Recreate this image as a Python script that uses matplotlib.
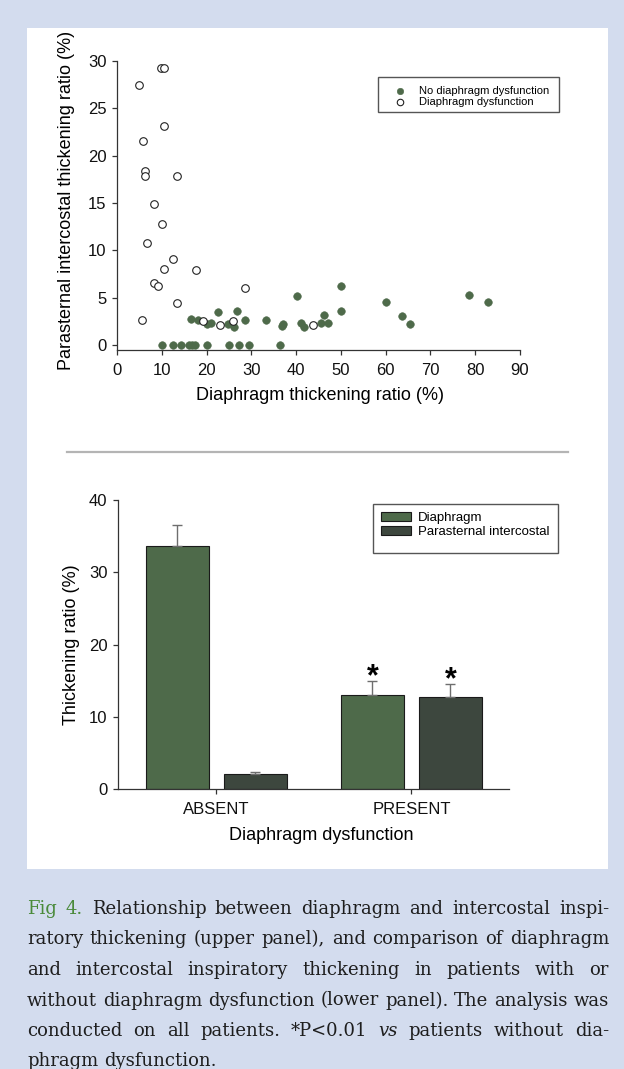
import matplotlib
matplotlib.use('Agg')
import matplotlib.pyplot as plt
from matplotlib.patches import Rectangle, Patch
from matplotlib.lines import Line2D
import numpy as np

# ---------------- data ----------------
# Upper panel: scatter (diaphragm TR %, parasternal TR %)
nodys_x = [10.0, 12.5, 14.3, 16.0, 16.7, 17.4, 20.0, 25.0, 27.3, 29.4, 36.4,
           16.6, 18.1, 20.1, 20.9, 22.5, 24.9, 26.1, 26.7, 28.6, 33.3, 36.8, 37.1,
           40.1, 41.2, 41.7, 45.5, 46.2, 47.2, 50.1, 50.1, 60.1, 63.7, 65.4, 78.7, 82.8]
nodys_y = [0, 0, 0, 0, 0, 0, 0, 0, 0, 0, 0,
           2.75, 2.64, 2.22, 2.29, 3.45, 2.18, 1.94, 3.55, 2.68, 2.6, 2.0, 2.25,
           5.14, 2.36, 1.94, 2.36, 3.13, 2.29, 6.23, 3.55, 4.58, 3.03, 2.18, 5.25, 4.54]
dys_x = [5.0, 9.9, 10.6, 10.5, 5.9, 6.2, 6.2, 13.3, 8.3, 10.0, 6.7, 12.5, 10.6,
         17.6, 8.25, 9.1, 28.6, 13.3, 5.5, 19.3, 23.0, 25.8, 43.8]
dys_y = [27.5, 29.3, 29.3, 23.1, 21.6, 18.4, 17.9, 17.8, 14.9, 12.8, 10.8, 9.1, 8.05,
         7.9, 6.5, 6.2, 6.0, 4.4, 2.6, 2.5, 2.1, 2.55, 2.15]
scatter_labels = ['No diaphragm dysfunction', 'Diaphragm dysfunction']
scatter_xticks = [0, 10, 20, 30, 40, 50, 60, 70, 80, 90]
scatter_yticks = [0, 5, 10, 15, 20, 25, 30]

# Lower panel: bars
groups = ['ABSENT', 'PRESENT']
diaphragm_mean = [33.6, 13.1]
diaphragm_err = [3.0, 1.9]
parasternal_mean = [2.1, 12.7]
parasternal_err = [0.25, 1.9]
significant = [False, True]
bar_labels = ['Diaphragm', 'Parasternal intercostal']
bar_yticks = [0, 10, 20, 30, 40]

caption_lines = [
    "Fig 4. Relationship between diaphragm and intercostal inspi-",
    "ratory thickening (upper panel), and comparison of diaphragm",
    "and intercostal inspiratory thickening in patients with or",
    "without diaphragm dysfunction (lower panel). The analysis was",
    "conducted on all patients. *P<0.01 vs patients without dia-",
    "phragm dysfunction.",
]
caption_green_words = 2   # "Fig 4."
caption_italic = {"vs"}

# ---------------- style ----------------
W, H = 624, 1069
BG = '#d3dcee'
GREEN = '#4e6a4a'
DARK = '#3d473e'
AXC = '#333333'

plt.rcParams['font.family'] = ['Liberation Sans', 'DejaVu Sans']


def fx(x):
    return x / W


def fy(y):
    return 1 - y / H


fig = plt.figure(figsize=(W / 100, H / 100), dpi=100, facecolor=BG)
fig.add_artist(Rectangle((fx(27), fy(869)), (608 - 27) / W, (869 - 28) / H,
                         transform=fig.transFigure, facecolor='white',
                         edgecolor='none', zorder=-5))
fig.add_artist(Line2D([fx(67), fx(568)], [fy(451.5), fy(451.5)],
                      transform=fig.transFigure, color='#b4b4b4', lw=1.6))


def style_axes(ax):
    for s in ['top', 'right']:
        ax.spines[s].set_visible(False)
    for s in ['left', 'bottom']:
        ax.spines[s].set_color(AXC)
        ax.spines[s].set_linewidth(0.9)
    ax.tick_params(direction='out', length=3.5, width=0.9, color=AXC,
                   labelsize=12, labelcolor='#111111', pad=4)


# ---------------- upper panel ----------------
ax1 = fig.add_axes([fx(117), fy(349.7), (520 - 117) / W, (349.7 - 61) / H])
style_axes(ax1)
ax1.set_xlim(0, 90)
ax1.set_ylim(-0.5, 30)
ax1.set_xticks(scatter_xticks)
ax1.set_yticks(scatter_yticks)
ax1.tick_params(axis='x', pad=6)
ax1.scatter(nodys_x, nodys_y, s=30, color=GREEN, edgecolors=GREEN,
            linewidths=0.4, zorder=3, clip_on=False, label=scatter_labels[0])
ax1.scatter(dys_x, dys_y, s=30, facecolors='white', edgecolors='#222222',
            linewidths=0.8, zorder=4, clip_on=False, label=scatter_labels[1])
ax1.set_xlabel('Diaphragm thickening ratio (%)', fontsize=13)
ax1.set_ylabel('Parasternal intercostal thickening ratio (%)', fontsize=13)
ax1.xaxis.set_label_coords(fx(320), fy(395), transform=fig.transFigure)
ax1.yaxis.set_label_coords(fx(67), fy(200), transform=fig.transFigure)
ax1.xaxis.label.set_va('center')
ax1.yaxis.label.set_va('center')
leg1 = ax1.legend(loc='upper left', bbox_to_anchor=(fx(394.5), fy(86.2)),
                  bbox_transform=fig.transFigure, frameon=False, fontsize=8,
                  borderpad=0, borderaxespad=0, handlelength=1.0,
                  handletextpad=1.2, labelspacing=0.1, markerscale=0.85)
fig.add_artist(Rectangle((fx(378.3), fy(112.3)), (559.3 - 378.3) / W, (112.3 - 77.3) / H,
                         transform=fig.transFigure, facecolor='none',
                         edgecolor='#555555', lw=1.0))

# ---------------- lower panel ----------------
ax2 = fig.add_axes([fx(118), fy(789.3), (509 - 118) / W, (789.3 - 500) / H])
style_axes(ax2)
x = np.arange(len(groups))
off, bw = 0.2, 0.322
ekw = dict(ecolor='#6e6e6e', elinewidth=1.0, capsize=3.6, capthick=1.0)
ax2.bar(x - off, diaphragm_mean, bw, color=GREEN, edgecolor='#1a1a1a', lw=0.8,
        yerr=[[0] * len(x), diaphragm_err], error_kw=ekw, label=bar_labels[0], zorder=2)
ax2.bar(x + off, parasternal_mean, bw, color=DARK, edgecolor='#1a1a1a', lw=0.8,
        yerr=[[0] * len(x), parasternal_err], error_kw=ekw, label=bar_labels[1], zorder=2)
for i, sig in enumerate(significant):
    if sig:
        ax2.text(x[i] - off, diaphragm_mean[i] + diaphragm_err[i] - 0.6, '*',
                 ha='center', va='baseline', fontsize=22, fontweight='bold')
        ax2.text(x[i] + off, parasternal_mean[i] + parasternal_err[i] - 0.6, '*',
                 ha='center', va='baseline', fontsize=22, fontweight='bold')
ax2.set_xlim(-0.505, 1.5)
ax2.set_ylim(0, 40)
ax2.set_yticks(bar_yticks)
ax2.set_xticks(x, groups)
ax2.tick_params(axis='x', pad=6)
ax2.set_xlabel('Diaphragm dysfunction', fontsize=13)
ax2.set_ylabel('Thickening ratio (%)', fontsize=13)
ax2.xaxis.set_label_coords(fx(321), fy(835), transform=fig.transFigure)
ax2.yaxis.set_label_coords(fx(71.5), fy(645), transform=fig.transFigure)
ax2.xaxis.label.set_va('center')
ax2.yaxis.label.set_va('center')
leg2 = ax2.legend(loc='upper left', bbox_to_anchor=(fx(381), fy(512.3)),
                  bbox_transform=fig.transFigure, frameon=False, fontsize=9.5,
                  borderpad=0, borderaxespad=0, handlelength=2.27, handleheight=0.6,
                  handletextpad=0.55, labelspacing=0.15)
fig.add_artist(Rectangle((fx(373.3), fy(552.7)), (558.3 - 373.3) / W, (552.7 - 504) / H,
                         transform=fig.transFigure, facecolor='none',
                         edgecolor='#555555', lw=1.0))

# ---------------- caption (justified) ----------------
renderer = fig.canvas.get_renderer()
CAP_FAMILY = 'DejaVu Serif'


def measure(s, **kw):
    t = fig.text(0, 0, s, family=CAP_FAMILY, **kw)
    w = t.get_window_extent(renderer).width
    t.remove()
    return w


w4 = measure(caption_lines[3], fontsize=12)
cap_fs = 12 * 577 / w4
space_w = measure('a a', fontsize=cap_fs) - measure('aa', fontsize=cap_fs)
left, right = 27, 609
base0, lh = 914, 30.5
word_index = 0
for li, line in enumerate(caption_lines):
    words = line.split(' ')
    texts = []
    for w in words:
        color = '#4a8a3a' if word_index < caption_green_words else '#1e1e1e'
        style = 'italic' if w in caption_italic else 'normal'
        t = fig.text(0, 0, w, family=CAP_FAMILY, fontsize=cap_fs, color=color,
                     style=style, va='baseline', ha='left')
        texts.append(t)
        word_index += 1
    widths = [t.get_window_extent(renderer).width for t in texts]
    if li < len(caption_lines) - 1 and len(words) > 1:
        gap = (right - left - sum(widths)) / (len(words) - 1)
    else:
        gap = space_w
    xx = left
    for t, wd in zip(texts, widths):
        t.set_position((fx(xx), fy(base0 + li * lh)))
        xx += wd + gap

fig.savefig('out.png', dpi=100, facecolor=BG)
